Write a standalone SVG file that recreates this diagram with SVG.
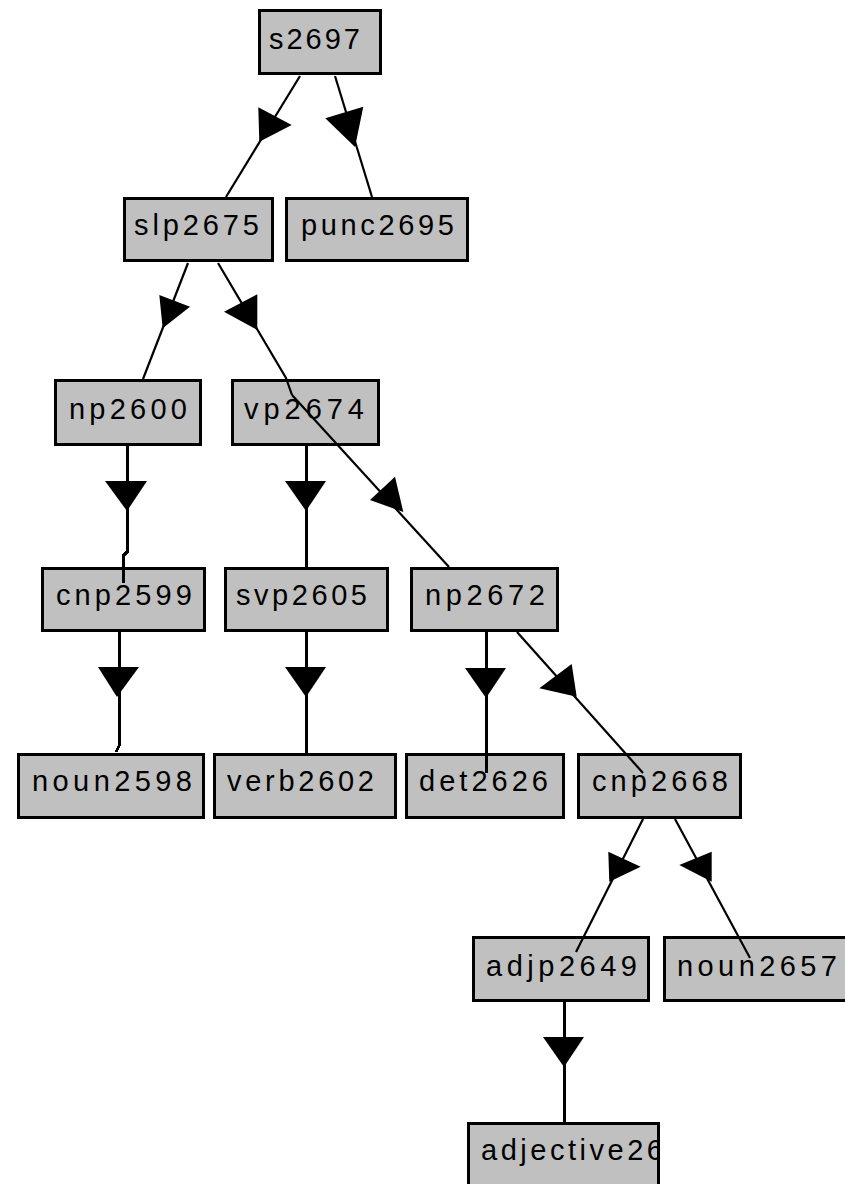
<svg xmlns="http://www.w3.org/2000/svg" width="845" height="1184" viewBox="0 0 845 1184">
<style>
.box{fill:#c0c0c0;stroke:#000;stroke-width:3;shape-rendering:crispEdges}
.lbl{font-family:"Liberation Sans",Arial,sans-serif;font-size:29px;fill:#000}
.ln{fill:none;stroke:#000;stroke-width:2.2}
.vl{fill:none;stroke:#000;stroke-width:3;shape-rendering:crispEdges}
.ah{fill:#000;stroke:none}
</style>
<defs>
<clipPath id="clipAdj"><rect x="470" y="1124" width="187" height="60"/></clipPath>
</defs>
<rect width="845" height="1184" fill="#fff"/>
<g id="nodes">
<g id="s2697"><rect class="box" x="259.5" y="10.5" width="121" height="63"/><text class="lbl" x="269" y="49" textLength="91" lengthAdjust="spacing">s2697</text></g>
<g id="slp2675"><rect class="box" x="124.5" y="198.5" width="148" height="62"/><text class="lbl" x="134" y="235" textLength="125" lengthAdjust="spacing">slp2675</text></g>
<g id="punc2695"><rect class="box" x="286.5" y="198.5" width="181" height="62"/><text class="lbl" x="301" y="235" textLength="153" lengthAdjust="spacing">punc2695</text></g>
<g id="np2600"><rect class="box" x="55.5" y="380.5" width="145" height="64"/><text class="lbl" x="69" y="419" textLength="118" lengthAdjust="spacing">np2600</text></g>
<g id="vp2674"><rect class="box" x="232.5" y="380.5" width="146" height="64"/><text class="lbl" x="244" y="419" textLength="120" lengthAdjust="spacing">vp2674</text></g>
<g id="cnp2599"><rect class="box" x="42.5" y="568.5" width="162" height="62"/><text class="lbl" x="56" y="605" textLength="136" lengthAdjust="spacing">cnp2599</text></g>
<g id="svp2605"><rect class="box" x="225.5" y="568.5" width="162" height="62"/><text class="lbl" x="236" y="605" textLength="131" lengthAdjust="spacing">svp2605</text></g>
<g id="np2672"><rect class="box" x="411.5" y="568.5" width="146" height="62"/><text class="lbl" x="425" y="605" textLength="120" lengthAdjust="spacing">np2672</text></g>
<g id="noun2598"><rect class="box" x="18.5" y="754.5" width="185" height="63"/><text class="lbl" x="32" y="791" textLength="160" lengthAdjust="spacing">noun2598</text></g>
<g id="verb2602"><rect class="box" x="214.5" y="754.5" width="181" height="63"/><text class="lbl" x="227" y="791" textLength="147" lengthAdjust="spacing">verb2602</text></g>
<g id="det2626"><rect class="box" x="406.5" y="754.5" width="157" height="63"/><text class="lbl" x="419" y="791" textLength="129" lengthAdjust="spacing">det2626</text></g>
<g id="cnp2668"><rect class="box" x="578.5" y="754.5" width="162" height="63"/><text class="lbl" x="592" y="791" textLength="136" lengthAdjust="spacing">cnp2668</text></g>
<g id="adjp2649"><rect class="box" x="473.5" y="937.5" width="175" height="63"/><text class="lbl" x="486" y="976" textLength="151" lengthAdjust="spacing">adjp2649</text></g>
<g id="noun2657"><rect class="box" x="664.5" y="937.5" width="190" height="63"/><text class="lbl" x="677" y="976" textLength="160" lengthAdjust="spacing">noun2657</text></g>
<g id="adjective26"><rect class="box" x="468.5" y="1123.5" width="190" height="70"/><text class="lbl" x="481" y="1160" textLength="182" lengthAdjust="spacing" clip-path="url(#clipAdj)">adjective26</text></g>
</g>
<g id="connectors">
<line class="ln" x1="300" y1="76" x2="226" y2="197"/>
<polygon class="ah" points="258.3,107.3 291.7,125 259.3,141.7"/>
<line class="ln" x1="335" y1="76" x2="372" y2="197"/>
<polygon class="ah" points="325.3,118.3 363.3,106.7 355,147"/>
<line class="ln" x1="188" y1="263" x2="143" y2="379"/>
<polygon class="ah" points="159.3,295 190,306.7 162.7,328.3"/>
<polyline class="ln" points="218,263 286,378 292,395"/>
<polygon class="ah" points="224,311.7 257.3,294.3 257.3,330"/>
<polyline class="vl" points="127,446 127,552 123,556 123,583"/>
<polygon class="ah" points="105,481 147,481 127,511"/>
<line class="vl" x1="306" y1="446" x2="306" y2="567"/>
<polygon class="ah" points="285,481 326,481 306,511"/>
<line class="ln" x1="292" y1="395" x2="449" y2="567"/>
<polygon class="ah" points="395,476.7 403.3,512 370,500"/>
<polyline class="vl" points="119,632 119,746 116,752"/>
<polygon class="ah" points="98,667 139,667 117,697"/>
<line class="vl" x1="306" y1="632" x2="306" y2="753"/>
<polygon class="ah" points="285,667 326,667 306,697"/>
<line class="vl" x1="486" y1="632" x2="486" y2="773"/>
<polygon class="ah" points="465,668 506,668 486,698"/>
<line class="ln" x1="517" y1="632" x2="643" y2="773"/>
<polygon class="ah" points="539.3,688.3 571.7,664 576.7,696.7"/>
<line class="ln" x1="643" y1="819" x2="576" y2="952"/>
<polygon class="ah" points="608.3,851.7 640.7,866.7 609.3,881.7"/>
<line class="ln" x1="675" y1="819" x2="750" y2="958"/>
<polygon class="ah" points="679.3,865 711.7,851.7 711.7,881.7"/>
<line class="vl" x1="564" y1="1002" x2="564" y2="1122"/>
<polygon class="ah" points="543,1037 584,1037 564,1067"/>
</g>
</svg>
